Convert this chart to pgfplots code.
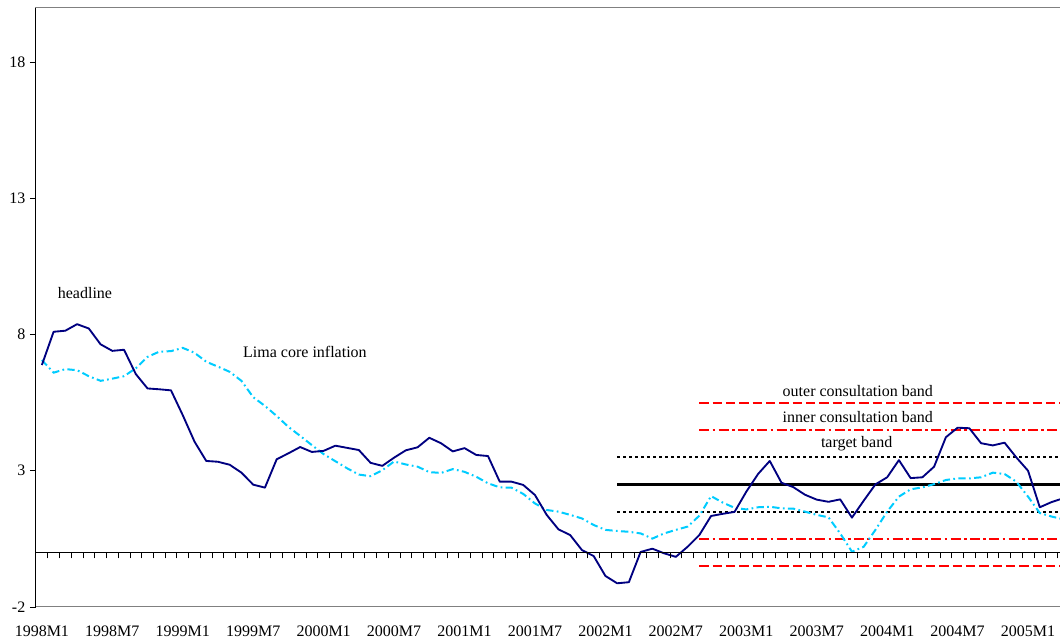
\documentclass[border=0pt]{standalone}
\usepackage{fontspec}
\setmainfont{Liberation Serif}
\usepackage{pgfplots}
\usepackage{pgfplotstable}
\pgfplotsset{compat=1.18}
\definecolor{navyline}{RGB}{0,0,128}
\definecolor{coreblue}{RGB}{0,204,255}
\definecolor{boxgray}{RGB}{128,128,128}

\pgfplotstableread{
i head core
0 6.88 7.06
1 8.10 6.60
2 8.14 6.73
3 8.38 6.69
4 8.22 6.47
5 7.64 6.30
6 7.40 6.38
7 7.44 6.47
8 6.55 6.76
9 6.02 7.18
10 5.99 7.37
11 5.95 7.39
12 5.04 7.51
13 4.07 7.33
14 3.36 7.00
15 3.33 6.82
16 3.22 6.63
17 2.93 6.30
18 2.49 5.70
19 2.38 5.38
20 3.42 5.01
21 3.64 4.61
22 3.87 4.28
23 3.69 3.94
24 3.73 3.61
25 3.92 3.35
26 3.84 3.09
27 3.76 2.86
28 3.29 2.80
29 3.18 3.02
30 3.48 3.34
31 3.75 3.23
32 3.86 3.15
33 4.21 2.95
34 4.01 2.92
35 3.71 3.06
36 3.83 2.96
37 3.58 2.78
38 3.54 2.54
39 2.60 2.39
40 2.60 2.38
41 2.48 2.15
42 2.11 1.80
43 1.38 1.56
44 0.85 1.50
45 0.64 1.38
46 0.09 1.25
47 -0.13 1.01
48 -0.86 0.83
49 -1.13 0.79
50 -1.09 0.76
51 0.02 0.70
52 0.14 0.51
53 -0.03 0.70
54 -0.16 0.83
55 0.21 0.95
56 0.64 1.35
57 1.34 2.07
58 1.42 1.83
59 1.49 1.64
60 2.23 1.58
61 2.88 1.66
62 3.36 1.68
63 2.56 1.62
64 2.40 1.61
65 2.12 1.50
66 1.94 1.38
67 1.86 1.29
68 1.95 0.70
69 1.28 0.03
70 1.90 0.21
71 2.50 0.83
72 2.76 1.50
73 3.39 2.05
74 2.73 2.32
75 2.76 2.39
76 3.15 2.51
77 4.23 2.66
78 4.58 2.72
79 4.56 2.72
80 4.01 2.76
81 3.93 2.93
82 4.03 2.88
83 3.49 2.60
84 3.00 2.05
85 1.66 1.45
86 1.85 1.32
87 1.99 1.22
}\datatable

\begin{document}
\begin{tikzpicture}
\pgfplotsset{
  common/.style={
    scale only axis, width=770.44pt, height=449.6pt,
    xmin=-0.5, xmax=87, ymin=-2, ymax=20,
    tick label style={font=\fontsize{12pt}{14pt}\selectfont},
    /pgf/number format/assume math mode=true,
  }
}
% main axis: box, data, labels
\begin{axis}[common,
  axis line style={draw=boxgray, line width=0.75pt},
  xtick={0,6,...,84},
  xticklabels={1998M1,1998M7,1999M1,1999M7,2000M1,2000M7,2001M1,2001M7,2002M1,2002M7,2003M1,2003M7,2004M1,2004M7,2005M1},
  xticklabel style={yshift=-10.5pt},
  major tick length=0pt,
  ytick=\empty,
  clip=true,
]
% bands
\addplot[red, line width=1.5pt, dash pattern=on 7pt off 3pt] coordinates {(56,5.5) (87,5.5)};
\addplot[red, line width=1.5pt, dash pattern=on 7pt off 3pt] coordinates {(56,-0.5) (87,-0.5)};
\addplot[red, line width=1.5pt, dash pattern=on 7.5pt off 2.5pt on 2pt off 2.5pt] coordinates {(56,4.5) (87,4.5)};
\addplot[red, line width=1.5pt, dash pattern=on 7.5pt off 2.5pt on 2pt off 2.5pt] coordinates {(56,0.5) (87,0.5)};
\addplot[black, line width=1.4pt, dash pattern=on 2.25pt off 2.25pt] coordinates {(49,3.5) (87,3.5)};
\addplot[black, line width=1.4pt, dash pattern=on 2.25pt off 2.25pt] coordinates {(49,1.5) (87,1.5)};
\addplot[black, line width=2.3pt] coordinates {(49,2.5) (87,2.5)};
% series
\addplot[coreblue, line width=1.5pt, dash pattern=on 5.5pt off 2.5pt on 1.3pt off 2.5pt] table[x=i, y=core] {\datatable};
\addplot[navyline, line width=1.4pt, line join=round] table[x=i, y=head] {\datatable};
% labels
\node[font=\fontsize{12pt}{14pt}\selectfont] at (axis cs:3.67,9.52) {headline};
\node[font=\fontsize{12pt}{14pt}\selectfont] at (axis cs:22.41,7.36) {Lima core inflation};
\node[font=\fontsize{12pt}{14pt}\selectfont] at (axis cs:69.5,5.92) {outer consultation band};
\node[font=\fontsize{12pt}{14pt}\selectfont] at (axis cs:69.5,4.97) {inner consultation band};
\node[font=\fontsize{12pt}{14pt}\selectfont] at (axis cs:69.4,3.98) {target band};
\end{axis}
% overlay axis: zero line with ticks, left spine with y ticks
\begin{axis}[common,
  axis x line=middle, axis y line=left,
  axis line style={-, black, line width=0.75pt},
  xtick={-0.5,0.5,...,86.5}, xticklabels={},
  ytick={-2,3,8,13,18},
  yticklabels={-2,3,8,13,18},
  tick align=outside,
  major tick length=4.5pt,
  tick style={black, line width=0.6pt},
]
\end{axis}
\pgfresetboundingbox
\path[use as bounding box] (-27pt,-25.5pt) rectangle (768pt,455.25pt);
\end{tikzpicture}
\end{document}
